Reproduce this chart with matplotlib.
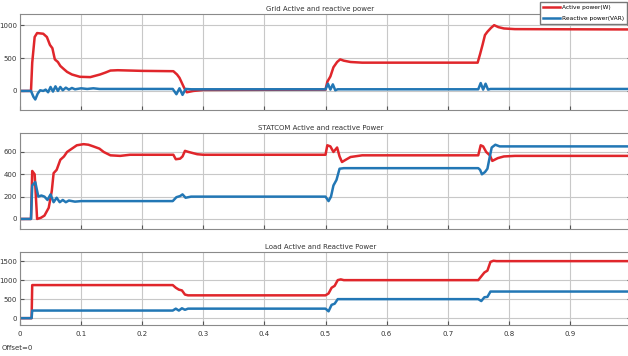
import matplotlib
matplotlib.use('Agg')
import matplotlib.pyplot as plt

# Grid active / reactive power
grid_t_p = [0, 0.018, 0.02, 0.024, 0.028, 0.038, 0.044, 0.049, 0.053, 0.057, 0.062, 0.066, 0.072,
            0.077, 0.085, 0.098, 0.115, 0.131, 0.14, 0.148, 0.16, 0.2, 0.251, 0.257, 0.261, 0.265,
            0.269, 0.273, 0.284, 0.3, 0.5, 0.503, 0.508, 0.513, 0.519, 0.524, 0.53, 0.541, 0.56,
            0.749, 0.753, 0.757, 0.761, 0.765, 0.771, 0.776, 0.783, 0.792, 0.81, 1.0]
grid_p = [0, 0, 430, 820, 880, 870, 820, 700, 650, 480, 440, 380, 330,
          290, 250, 215, 210, 250, 280, 310, 315, 305, 300, 250, 200, 120,
          40, -20, 0, 15, 20, 140, 220, 360, 440, 480, 460, 440, 430,
          430, 560, 700, 850, 900, 960, 1000, 970, 950, 940, 935]
grid_t_q = [0, 0.018, 0.022, 0.025, 0.029, 0.033, 0.038, 0.042, 0.046, 0.05, 0.054, 0.058, 0.062,
            0.066, 0.07, 0.075, 0.08, 0.085, 0.09, 0.1, 0.11, 0.12, 0.13, 0.25, 0.256, 0.261,
            0.266, 0.271, 0.28, 0.5, 0.504, 0.508, 0.512, 0.516, 0.52, 0.75, 0.754, 0.758,
            0.762, 0.766, 0.77, 1.0]
grid_q = [0, 0, -90, -130, -40, 10, 0, 20, -20, 60, -10, 70, 0,
          60, 10, 50, 20, 45, 25, 40, 30, 40, 30, 30, -50, 40,
          -60, 30, 25, 25, 110, 20, 100, 10, 25, 25, 120, 20, 110, 20, 30, 30]

# STATCOM active / reactive power
stat_t_p = [0, 0.018, 0.02, 0.024, 0.028, 0.034, 0.04, 0.047, 0.052, 0.055, 0.06, 0.066, 0.072,
            0.077, 0.085, 0.093, 0.104, 0.112, 0.12, 0.13, 0.137, 0.148, 0.164, 0.18, 0.251,
            0.255, 0.262, 0.266, 0.27, 0.276, 0.29, 0.3, 0.5, 0.503, 0.508, 0.513, 0.519, 0.523,
            0.527, 0.533, 0.541, 0.56, 0.75, 0.754, 0.758, 0.763, 0.769, 0.773, 0.782, 0.792,
            0.81, 1.0]
stat_p = [0, 0, 430, 400, 0, 10, 30, 100, 250, 410, 440, 530, 560,
          600, 630, 660, 670, 665, 650, 630, 600, 570, 565, 575, 575,
          535, 540, 560, 610, 600, 580, 575, 575, 660, 650, 600, 640, 560,
          510, 530, 555, 570, 570, 660, 650, 600, 570, 520, 545, 560, 565, 565]
stat_t_q = [0, 0.018, 0.02, 0.025, 0.03, 0.035, 0.04, 0.045, 0.05, 0.055, 0.06, 0.065, 0.07,
            0.075, 0.08, 0.09, 0.1, 0.25, 0.256, 0.262, 0.266, 0.271, 0.28, 0.5, 0.505,
            0.509, 0.513, 0.518, 0.523, 0.53, 0.75, 0.753, 0.756, 0.761, 0.765, 0.769, 0.772,
            0.778, 0.785, 1.0]
stat_q = [0, 0, 300, 330, 200, 210, 200, 170, 220, 150, 190, 150, 170,
          150, 165, 155, 160, 160, 195, 205, 220, 190, 200, 200, 160,
          200, 300, 350, 450, 455, 455, 440, 400, 420, 450, 560, 640,
          665, 650, 650]

# Load active / reactive power
load_t_p = [0, 0.019, 0.02, 0.25, 0.255, 0.26, 0.265, 0.27, 0.275, 0.5, 0.505, 0.51, 0.515,
            0.52, 0.525, 0.53, 0.75, 0.755, 0.76, 0.765, 0.77, 0.775, 0.78, 1.0]
load_p = [0, 0, 870, 870, 800, 750, 730, 620, 600, 600, 650, 800, 850,
          1000, 1020, 1000, 1000, 1100, 1200, 1250, 1480, 1510, 1500, 1500]
load_t_q = [0, 0.019, 0.02, 0.25, 0.255, 0.26, 0.265, 0.27, 0.275, 0.5, 0.505, 0.51, 0.515,
            0.52, 0.75, 0.755, 0.76, 0.765, 0.77, 1.0]
load_q = [0, 0, 200, 200, 250, 200, 260, 220, 250, 250, 180, 350, 380,
          500, 500, 450, 550, 560, 700, 700]

titles = ['Grid Active and reactive power', 'STATCOM Active and reactive Power',
          'Load Active and Reactive Power']
yticks = [[0, 500, 1000], [0, 200, 400, 600], [0, 500, 1000, 1500]]
ylims = [(-290, 1170), (-90, 770), (-180, 1740)]
xticks = [0, 0.1, 0.2, 0.3, 0.4, 0.5, 0.6, 0.7, 0.8, 0.9]
xticklabels = ['0', '0.1', '0.2', '0.3', '0.4', '0.5', '0.6', '0.7', '0.8', '0.9']

RED = '#e0262b'
BLUE = '#2277b5'
W, H = 628, 356

fig = plt.figure(figsize=(W / 100, H / 100), dpi=100)
# axes boxes in pixels: (top, bottom)
boxes = [(14, 110), (133, 229), (252, 325)]
data = [(grid_t_p, grid_p, grid_t_q, grid_q),
        (stat_t_p, stat_p, stat_t_q, stat_q),
        (load_t_p, load_p, load_t_q, load_q)]

for i, (top, bot) in enumerate(boxes):
    ax = fig.add_axes([20 / W, 1 - bot / H, 611 / W, (bot - top) / H])
    tp, p, tq, q = data[i]
    l1, = ax.plot(tp, p, color=RED, lw=1.8, label='Active power(W)')
    l2, = ax.plot(tq, q, color=BLUE, lw=1.8, label='Reactive power(VAR)')
    ax.set_xlim(0, 1)
    ax.set_ylim(*ylims[i])
    ax.set_yticks(yticks[i])
    ax.set_xticks(xticks)
    ax.set_xticklabels(xticklabels)
    ax.grid(True, color='#c8c8c8', lw=0.8)
    ax.tick_params(labelsize=5, length=3, direction='in', right=True, colors='#555555',
                   labelcolor='#333333', pad=2)
    ax.tick_params(axis='x', pad=4)
    if i < 2:
        ax.tick_params(labelbottom=False)
    for s in ax.spines.values():
        s.set_color('#8a8a8a')
        s.set_linewidth(0.8)
    fig.text(0.51, 1 - (top - 5) / H, titles[i], fontsize=5, ha='center', va='center',
             color='#333333')
    if i == 0:
        fig.legend(handles=[l1, l2], loc='upper right', bbox_to_anchor=(1.0, 0.998),
                   fontsize=4.2, frameon=True, fancybox=False, edgecolor='#777777',
                   handlelength=3.0, handletextpad=0.2, borderpad=0.55, labelspacing=1.0,
                   framealpha=1, borderaxespad=0.2)

fig.text(2 / W, 1 - 348 / H, 'Offset=0', fontsize=5, va='center', color='#333333')

fig.savefig('out.png', dpi=100)
